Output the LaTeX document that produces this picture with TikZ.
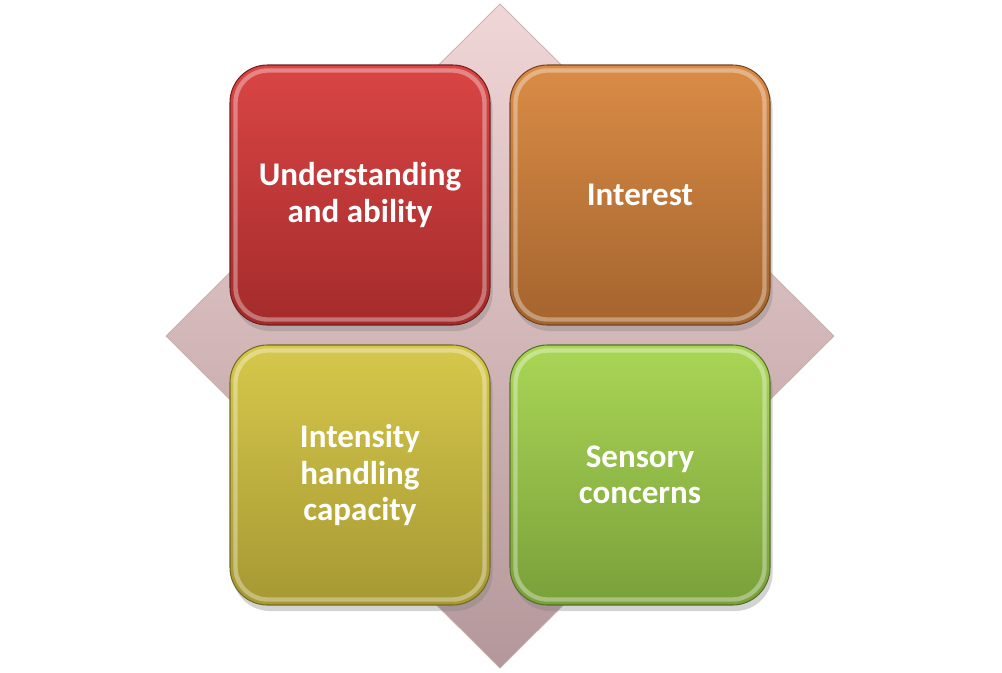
\documentclass[tikz,border=0pt]{standalone}
\usepackage{fontspec}
\setmainfont{Carlito}
\usetikzlibrary{shadows}

\definecolor{diatop}{HTML}{F0D6D6}
\definecolor{diabot}{HTML}{B4979A}
\definecolor{redtop}{HTML}{DA4545}
\definecolor{redbot}{HTML}{A42B2B}
\definecolor{orangetop}{HTML}{DA8C46}
\definecolor{orangebot}{HTML}{A4642E}
\definecolor{yellowtop}{HTML}{D6C84B}
\definecolor{yellowbot}{HTML}{A69833}
\definecolor{greentop}{HTML}{AAD656}
\definecolor{greenbot}{HTML}{79A03A}

\tikzset{
  tile/.style={rectangle, rounded corners=0.75cm, minimum width=5.2cm, minimum height=5.2cm,
    draw=#1bot!70!black, line width=0.6pt, top color=#1top, bottom color=#1bot,
    drop shadow={shadow xshift=0.5mm, shadow yshift=-1.2mm, opacity=0.35},
    text=white, align=center, font=\bfseries\fontsize{18.8}{20.5}\selectfont},
  bevel/.style={draw=white, opacity=0.35, line width=2.5pt, rounded corners=0.65cm}
}

\begin{document}
\begin{tikzpicture}
			\useasboundingbox (0,0) rectangle (20.04,-13.44);
			\begin{scope}
				% the diamond behind
				\shade[top color=diatop, bottom color=diabot, draw=diabot!80!white, line width=0.4pt]
					(10,-0.08) -- (16.68,-6.72) -- (10,-13.36) -- (3.32,-6.72) -- cycle;

				\node[tile=red] (understanding) at (7.2,-3.9) {Understanding\\and ability};
				\node[tile=orange] (interest) at (12.8,-3.9) {Interest};
				\node[tile=yellow] (intensity) at (7.2,-9.5) {Intensity\\handling\\capacity};
				\node[tile=green] (sensory) at (12.8,-9.5) {Sensory\\concerns};

				% inner light edge
				\foreach \t in {understanding, interest, intensity, sensory}
					\draw[bevel] ([shift={(0.12,0.12)}]\t.south west) rectangle ([shift={(-0.12,-0.12)}]\t.north east);
			\end{scope}
		\end{tikzpicture}
\end{document}
